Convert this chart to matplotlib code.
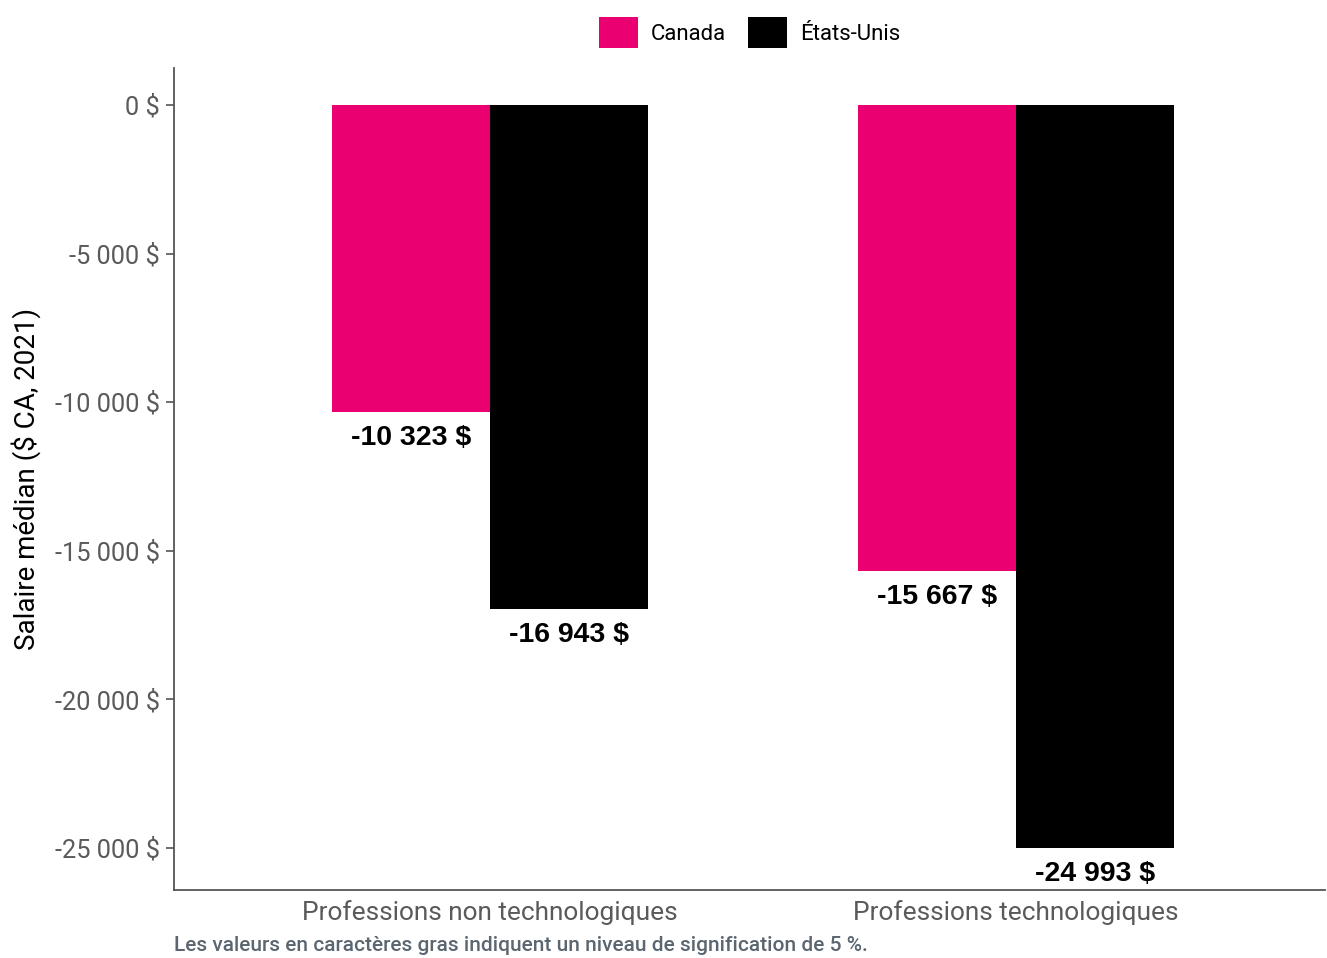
import numpy as np
import matplotlib.pyplot as plt
from matplotlib.patches import Patch

# data
categories = ["Professions non technologiques", "Professions technologiques"]
series = ["Canada", "États-Unis"]
canada = [-10323, -15667]
etats_unis = [-16943, -24993]
y_ticks = [0, -5000, -10000, -15000, -20000, -25000]

PINK = "#EB0072"
BLACK = "#000000"
GREY = "#555555"
FONT = ["Roboto", "DejaVu Sans"]


def fmt(v):
    s = f"{abs(int(v)):,}".replace(",", " ")
    return ("-" if v < 0 else "") + s + " $"


fig = plt.figure(figsize=(13.27, 9.58), dpi=100, facecolor="white")
ax = fig.add_axes([0.1311, 0.0710, 0.8674, 0.858])

x = np.arange(1, len(categories) + 1)
w = 0.3
for vals, color, off in [(canada, PINK, -w / 2), (etats_unis, BLACK, w / 2)]:
    ax.bar(x + off, vals, width=w, color=color, zorder=2)
    for xi, v in zip(x + off, vals):
        ax.annotate(fmt(v), xy=(xi, v), xytext=(0, -19), textcoords="offset points",
                    ha="center", va="center", fontsize=20.5, fontweight="bold",
                    family=["Liberation Sans", "DejaVu Sans"], color="black")

ax.set_xlim(0.399, 2.587)
ax.set_ylim(-26413, 1245)
ax.set_yticks(y_ticks)
ax.set_yticklabels([fmt(v) for v in y_ticks], fontsize=18.3, color="#5a5a5a", family=FONT)
ax.set_xticks(x)
ax.set_xticklabels(categories, fontsize=18.9, color="#5a5a5a", family=FONT)
ax.tick_params(axis="y", length=6, width=1.2, color=GREY, pad=4)
ax.tick_params(axis="x", length=0, pad=7)
for s in ["top", "right"]:
    ax.spines[s].set_visible(False)
for s in ["left", "bottom"]:
    ax.spines[s].set_color(GREY)
    ax.spines[s].set_linewidth(1.3)

ax.set_ylabel("Salaire médian ($ CA, 2021)", fontsize=20, color="black",
              family=FONT, labelpad=10)

handles = [Patch(facecolor=PINK), Patch(facecolor=BLACK)]
fig.legend(handles, series, loc="center", bbox_to_anchor=(0.565, 0.966), ncol=2,
           frameon=False, handlelength=1.75, handleheight=1.75, handletextpad=0.6,
           columnspacing=1.0, prop={"family": FONT, "size": 16})

fig.text(0.1311, 0.0035, "Les valeurs en caractères gras indiquent un niveau de signification de 5 %.",
         fontsize=15, color="#5b6670", family=FONT, fontweight="medium",
         ha="left", va="bottom")

fig.savefig("out.png", dpi=100, facecolor="white")
